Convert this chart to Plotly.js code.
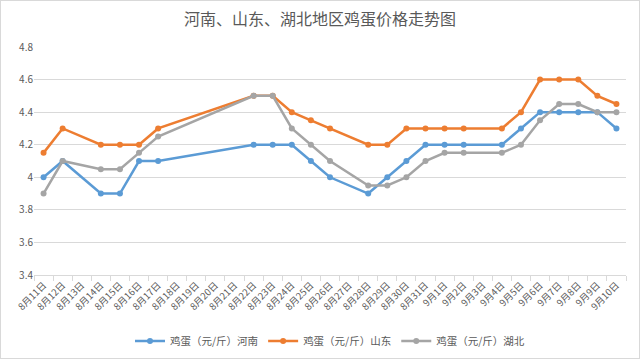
<!DOCTYPE html>
<html><head><meta charset="utf-8">
<script src="https://cdn.plot.ly/plotly-3.0.1.min.js"></script>
<style>
html,body{margin:0;padding:0;background:#fff;}
#wrap{position:relative;width:640px;height:359px;}
#chart{width:640px;height:359px;}
#frame{position:absolute;left:0;top:0;width:638px;height:357px;border:1px solid #d9d9d9;pointer-events:none;}
</style></head>
<body><div id="wrap"><div id="chart"></div><div id="frame"></div></div>
<script>
const allDates = ["8月11日","8月12日","8月13日","8月14日","8月15日","8月16日","8月17日","8月18日","8月19日","8月20日","8月21日","8月22日","8月23日","8月24日","8月25日","8月26日","8月27日","8月28日","8月29日","8月30日","8月31日","9月1日","9月2日","9月3日","9月4日","9月5日","9月6日","9月7日","9月8日","9月9日","9月10日"];
const dataDates = ["8月11日","8月12日","8月14日","8月15日","8月16日","8月17日","8月22日","8月23日","8月24日","8月25日","8月26日","8月28日","8月29日","8月30日","8月31日","9月1日","9月2日","9月4日","9月5日","9月6日","9月7日","9月8日","9月9日","9月10日"];
const henan =    [4.0,4.1,3.9,3.9,4.1,4.1,4.2,4.2,4.2,4.1,4.0,3.9,4.0,4.1,4.2,4.2,4.2,4.2,4.3,4.4,4.4,4.4,4.4,4.3];
const shandong = [4.15,4.3,4.2,4.2,4.2,4.3,4.5,4.5,4.4,4.35,4.3,4.2,4.2,4.3,4.3,4.3,4.3,4.3,4.4,4.6,4.6,4.6,4.5,4.45];
const hubei =    [3.9,4.1,4.05,4.05,4.15,4.25,4.5,4.5,4.3,4.2,4.1,3.95,3.95,4.0,4.1,4.15,4.15,4.15,4.2,4.35,4.45,4.45,4.4,4.4];
const names = ["鸡蛋（元/斤）河南","鸡蛋（元/斤）山东","鸡蛋（元/斤）湖北"];
const colors = ["#5B9BD5","#ED7D31","#A5A5A5"];
const series = [henan, shandong, hubei];
const font = "Noto Sans CJK SC, Noto Sans, sans-serif";
const traces = series.map((s,i)=>({
  x: dataDates, y: s, type:"scatter", mode:"lines+markers", name:names[i],
  line:{color:colors[i], width:2.5}, marker:{color:colors[i], size:6}
}));
const layout = {
  width:640, height:359,
  margin:{l:34,r:14,t:47,b:84},
  paper_bgcolor:"#fff", plot_bgcolor:"#fff",
  font:{family:font, color:"#595959"},
  title:{text:"河南、山东、湖北地区鸡蛋价格走势图", x:0.5, xanchor:"center", y:0.945, yanchor:"middle", font:{size:16, color:"#595959", family:font}},
  showlegend:true,
  legend:{orientation:"h", x:0.5, xanchor:"center", y:0.05, yanchor:"middle", yref:"container", font:{size:10.5, color:"#595959"}, itemwidth:30, tracegroupgap:0},
  xaxis:{type:"category", categoryorder:"array", categoryarray:allDates, range:[-0.5,30.5],
    tickangle:-45, tickfont:{size:9.5, color:"#595959"}, ticks:"outside", tickson:"boundaries", ticklen:5, tickcolor:"#d9d9d9",
    showline:true, linecolor:"#d9d9d9", linewidth:1, showgrid:false, zeroline:false, fixedrange:true},
  yaxis:{range:[3.4,4.8], dtick:0.2, tick0:3.4, tickfont:{size:10, color:"#595959"}, showgrid:true, gridcolor:"#d9d9d9", gridwidth:1,
    zeroline:false, showline:false, ticks:"", fixedrange:true}
};
Plotly.newPlot("chart", traces, layout, {displayModeBar:false, staticPlot:true});
</script></body></html>
